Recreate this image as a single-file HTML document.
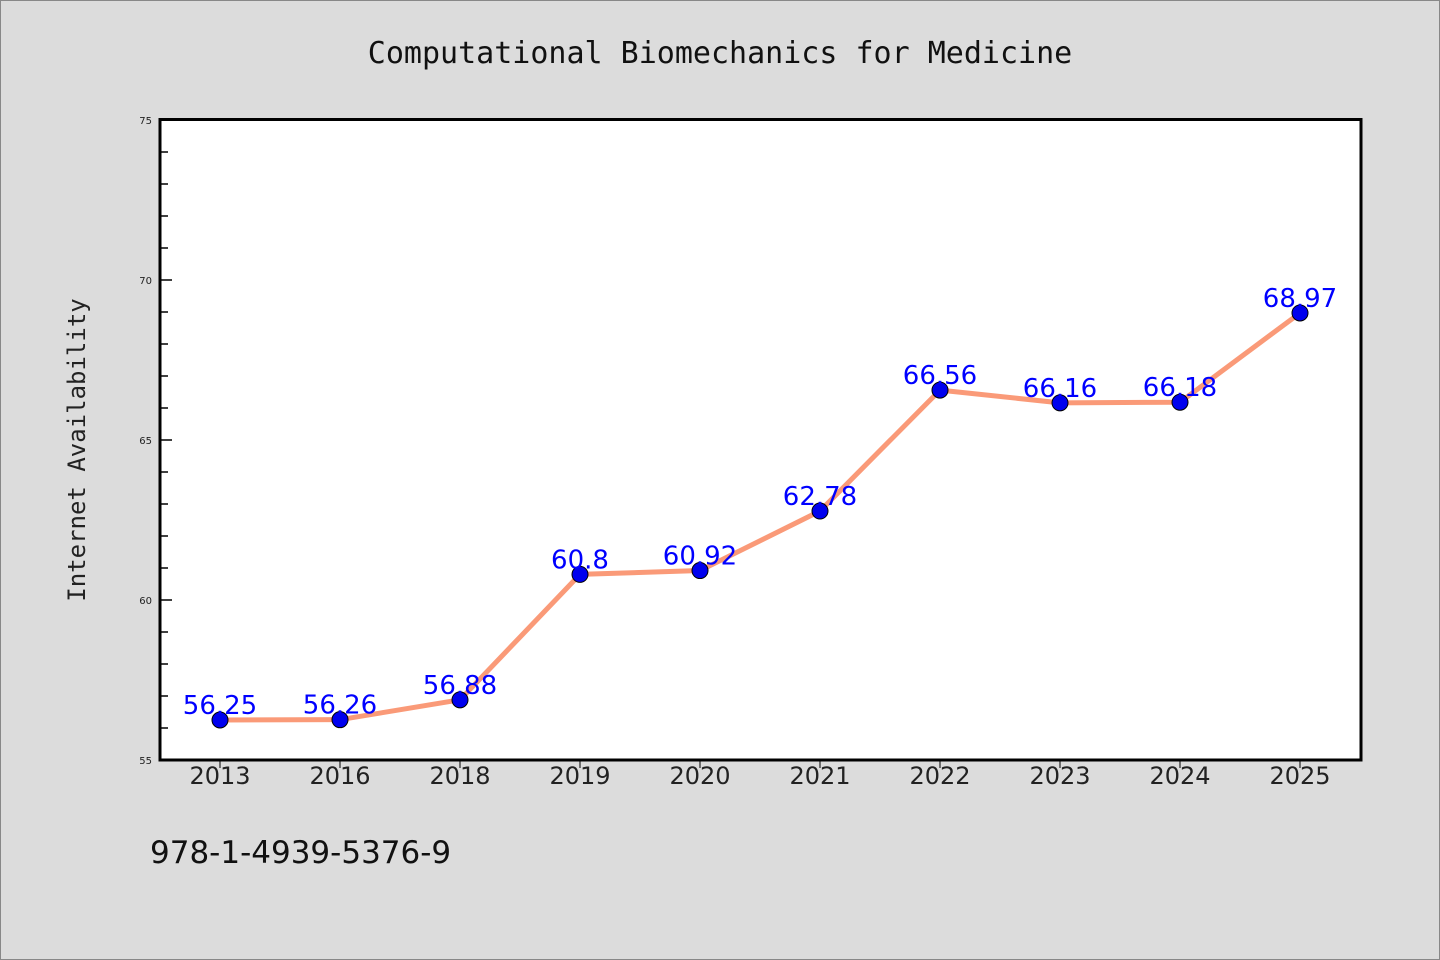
<!DOCTYPE html>
<html><head><meta charset="utf-8"><style>
body{margin:0;background:#dcdcdc;}
svg{display:block;font-family:"DejaVu Sans","Liberation Sans",sans-serif;}
</style></head><body>
<svg width="1440" height="960">
<rect x="0.5" y="0.5" width="1439" height="959" fill="#dcdcdc" stroke="#888"/>
<text x="720" y="63" font-size="30" text-anchor="middle" fill="#111" font-family="DejaVu Sans Mono,Liberation Mono,monospace">Computational Biomechanics for Medicine</text>
<rect x="160" y="119.5" width="1201" height="640.5" fill="#fff" stroke="#000" stroke-width="3"/>
<text transform="translate(85,450) rotate(-90)" font-size="24" text-anchor="middle" fill="#222" font-family="DejaVu Sans Mono,Liberation Mono,monospace">Internet Availability</text>
<text x="150" y="863" font-size="31" fill="#111">978-1-4939-5376-9</text>
<g id="axes"></g>
<g id="marks"></g>
</svg>
<script>
const categories=["2013","2016","2018","2019","2020","2021","2022","2023","2024","2025"];
const values=[56.25,56.26,56.88,60.8,60.92,62.78,66.56,66.16,66.18,68.97];
const yTicks=[55,60,65,70,75];
const yMin=55,yMax=75,plotTop=120,plotBot=760,plotLeft=160;
const ns="http://www.w3.org/2000/svg";
function yPos(v){return plotBot-(v-yMin)/(yMax-yMin)*(plotBot-plotTop);}
function xPos(i){return 220+i*120;}
function mk(t,a,p){const e=document.createElementNS(ns,t);for(const k in a)e.setAttribute(k,a[k]);p.appendChild(e);return e;}
const ax=document.getElementById('axes'),mg=document.getElementById('marks');
for(let v=yMin;v<=yMax;v++){
 const major=yTicks.includes(v);
 const l=mk('line',{x1:plotLeft,x2:plotLeft+(major?12:8),y1:yPos(v),y2:yPos(v),stroke:'#000','stroke-width':1.5},ax);
 
 
 if(major){const t=mk('text',{x:152,y:yPos(v)+4,'font-size':10,'text-anchor':'end',fill:'#222'},ax);t.textContent=v;
 
 }
}
categories.forEach((c,i)=>{
 const l=mk('line',{x1:xPos(i),x2:xPos(i),y1:plotBot,y2:plotBot+8,stroke:'#000','stroke-width':1},ax);
 
 
 const t=mk('text',{x:xPos(i),y:784,'font-size':24,'text-anchor':'middle',fill:'#222'},ax);t.textContent=c;
 
 
});
const pl=mk('polyline',{points:values.map((v,i)=>xPos(i)+','+yPos(v)).join(' '),fill:'none',stroke:'#fa9a78','stroke-width':5},mg);


values.forEach((v,i)=>{
 const c=mk('circle',{cx:xPos(i),cy:yPos(v),r:8,fill:'#0000ee',stroke:'#000','stroke-width':1},mg);
 
 
 const t=mk('text',{x:xPos(i),y:yPos(v)-6,'font-size':26,'text-anchor':'middle',fill:'#0000ff'},mg);t.textContent=v;
 
 
});
</script>
</body></html>
